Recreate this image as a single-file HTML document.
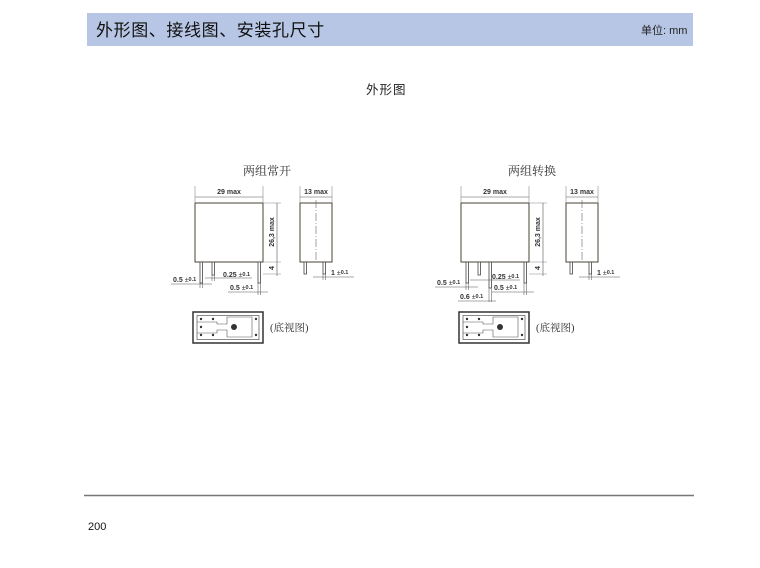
<!DOCTYPE html>
<html><head><meta charset="utf-8">
<style>
html,body{margin:0;padding:0;background:#fff;}
body{width:760px;height:568px;overflow:hidden;position:relative;font-family:"Liberation Sans","Noto Sans CJK SC",sans-serif;}
</style></head><body>
<svg width="760" height="568" viewBox="0 0 760 568" xmlns="http://www.w3.org/2000/svg" style="position:absolute;left:0;top:0">
<rect x="87" y="13" width="606" height="33" fill="#b7c6e4"/>
<text x="96" y="36" font-size="17" fill="#111" font-family="Noto Sans CJK SC, sans-serif" letter-spacing="0.6">外形图、接线图、安装孔尺寸</text>
<text x="641" y="34" font-size="11" fill="#222" font-family="Liberation Sans, Noto Sans CJK SC, sans-serif">单位: mm</text>
<text x="366" y="94" font-size="12.5" fill="#222" font-family="Noto Sans CJK SC, sans-serif" letter-spacing="1">外形图</text>
<text x="243" y="175" font-size="12" fill="#333" font-family="Noto Serif CJK SC, serif">两组常开</text>
<text x="508" y="175" font-size="12" fill="#333" font-family="Noto Serif CJK SC, serif">两组转换</text>

<defs>
<g id="common" font-family="Liberation Sans, sans-serif" font-weight="bold" font-size="7">
 <rect x="195" y="203" width="68" height="59" fill="#fff" stroke="#4a4036" stroke-width="1"/>
 <line x1="195" y1="186" x2="195" y2="203" stroke="#888" stroke-width="0.6"/>
 <line x1="263" y1="186" x2="263" y2="203" stroke="#888" stroke-width="0.6"/>
 <line x1="195" y1="197" x2="263" y2="197" stroke="#555" stroke-width="0.6"/>
 <text x="229" y="194" text-anchor="middle" fill="#333">29 max</text>
 <line x1="263" y1="203" x2="281" y2="203" stroke="#888" stroke-width="0.6"/>
 <line x1="263" y1="262" x2="281" y2="262" stroke="#888" stroke-width="0.6"/>
 <line x1="277" y1="203" x2="277" y2="276" stroke="#555" stroke-width="0.6"/>
 <line x1="263" y1="274" x2="281" y2="274" stroke="#888" stroke-width="0.6"/>
 <text transform="translate(274,232) rotate(-90)" text-anchor="middle" fill="#333">26,3 max</text>
 <text transform="translate(274,268) rotate(-90)" text-anchor="middle" fill="#333">4</text>
 <rect x="300" y="203" width="32" height="59" fill="#fff" stroke="#4a4036" stroke-width="1"/>
 <line x1="316" y1="200" x2="316" y2="262" stroke="#666" stroke-width="0.6" stroke-dasharray="8,2,1,2"/>
 <line x1="300" y1="186" x2="300" y2="203" stroke="#888" stroke-width="0.6"/>
 <line x1="332" y1="186" x2="332" y2="203" stroke="#888" stroke-width="0.6"/>
 <line x1="300" y1="197" x2="332" y2="197" stroke="#555" stroke-width="0.6"/>
 <text x="316" y="194" text-anchor="middle" fill="#333">13 max</text>
 <rect x="304" y="262" width="2.5" height="12" fill="#fff" stroke="#444" stroke-width="0.8"/>
 <rect x="323" y="262" width="2.5" height="12" fill="#fff" stroke="#444" stroke-width="0.8"/>
 <line x1="323" y1="274" x2="323" y2="280" stroke="#666" stroke-width="0.6"/>
 <line x1="325.5" y1="274" x2="325.5" y2="280" stroke="#666" stroke-width="0.6"/>
 <line x1="313" y1="277" x2="354" y2="277" stroke="#555" stroke-width="0.6"/>
 <text x="331" y="275" fill="#333">1 <tspan font-weight="normal">±</tspan><tspan font-size="5.5" dy="-1">0.1</tspan></text>
 <rect x="193" y="312" width="70" height="31" fill="#fff" stroke="#333" stroke-width="1.5"/>
 <rect x="197" y="315.5" width="62" height="24" fill="#fff" stroke="#555" stroke-width="0.7"/>
 <path d="M197,322 H217 V324 H227 V317 H252 V337 H227 V330 H217 V333 H197" fill="none" stroke="#555" stroke-width="0.6"/>
 <circle cx="234" cy="327" r="3" fill="#333"/>
 <circle cx="201" cy="319" r="1.2" fill="#333"/><circle cx="213" cy="319" r="1.2" fill="#333"/>
 <circle cx="201" cy="327" r="1.2" fill="#333"/>
 <circle cx="201" cy="335" r="1.2" fill="#333"/><circle cx="213" cy="335" r="1.2" fill="#333"/>
 <circle cx="256" cy="319" r="1.2" fill="#333"/><circle cx="256" cy="335" r="1.2" fill="#333"/>
 <text x="270" y="331" font-weight="normal" font-size="10.5" fill="#333" font-family="Liberation Serif, Noto Serif CJK SC, serif">(底视图)</text>
</g>
</defs>

<use href="#common"/>
<g font-family="Liberation Sans, sans-serif" font-weight="bold" font-size="7">
 <rect x="200" y="262" width="2.5" height="21" fill="#fff" stroke="#444" stroke-width="0.8"/>
 <rect x="212" y="262" width="2.5" height="13" fill="#fff" stroke="#444" stroke-width="0.8"/>
 <rect x="258" y="262" width="2.5" height="21" fill="#fff" stroke="#444" stroke-width="0.8"/>
 <line x1="200" y1="283" x2="200" y2="288" stroke="#666" stroke-width="0.6"/>
 <line x1="202.5" y1="283" x2="202.5" y2="288" stroke="#666" stroke-width="0.6"/>
 <line x1="212" y1="275" x2="212" y2="281" stroke="#666" stroke-width="0.6"/>
 <line x1="214.5" y1="275" x2="214.5" y2="281" stroke="#666" stroke-width="0.6"/>
 <line x1="258" y1="283" x2="258" y2="295" stroke="#666" stroke-width="0.6"/>
 <line x1="260.5" y1="283" x2="260.5" y2="295" stroke="#666" stroke-width="0.6"/>
 <line x1="171" y1="284" x2="212" y2="284" stroke="#555" stroke-width="0.6"/>
 <text x="173" y="282" fill="#333">0.5 <tspan font-weight="normal">±</tspan><tspan font-size="5.5" dy="-1">0.1</tspan></text>
 <line x1="205" y1="278" x2="252" y2="278" stroke="#555" stroke-width="0.6"/>
 <text x="223" y="277" fill="#333">0.25 <tspan font-weight="normal">±</tspan><tspan font-size="5.5" dy="-1">0.1</tspan></text>
 <line x1="228" y1="292" x2="268" y2="292" stroke="#555" stroke-width="0.6"/>
 <text x="230" y="290" fill="#333">0.5 <tspan font-weight="normal">±</tspan><tspan font-size="5.5" dy="-1">0.1</tspan></text>
</g>

<use href="#common" transform="translate(266,0)"/>
<g font-family="Liberation Sans, sans-serif" font-weight="bold" font-size="7">
 <rect x="466" y="262" width="2.5" height="21" fill="#fff" stroke="#444" stroke-width="0.8"/>
 <rect x="478" y="262" width="2.5" height="13" fill="#fff" stroke="#444" stroke-width="0.8"/>
 <rect x="489" y="262" width="2.5" height="26" fill="#fff" stroke="#444" stroke-width="0.8"/>
 <rect x="524" y="262" width="2.5" height="21" fill="#fff" stroke="#444" stroke-width="0.8"/>
 <line x1="466" y1="283" x2="466" y2="290" stroke="#666" stroke-width="0.6"/>
 <line x1="468.5" y1="283" x2="468.5" y2="290" stroke="#666" stroke-width="0.6"/>
 <line x1="489" y1="288" x2="489" y2="302" stroke="#666" stroke-width="0.6"/>
 <line x1="491.5" y1="288" x2="491.5" y2="302" stroke="#666" stroke-width="0.6"/>
 <line x1="524" y1="283" x2="524" y2="295" stroke="#666" stroke-width="0.6"/>
 <line x1="526.5" y1="283" x2="526.5" y2="295" stroke="#666" stroke-width="0.6"/>
 <line x1="435" y1="287" x2="478" y2="287" stroke="#555" stroke-width="0.6"/>
 <text x="437" y="285" fill="#333">0.5 <tspan font-weight="normal">±</tspan><tspan font-size="5.5" dy="-1">0.1</tspan></text>
 <line x1="470" y1="280" x2="520" y2="280" stroke="#555" stroke-width="0.6"/>
 <text x="492" y="279" fill="#333">0.25 <tspan font-weight="normal">±</tspan><tspan font-size="5.5" dy="-1">0.1</tspan></text>
 <line x1="492" y1="292" x2="534" y2="292" stroke="#555" stroke-width="0.6"/>
 <text x="494" y="290" fill="#333">0.5 <tspan font-weight="normal">±</tspan><tspan font-size="5.5" dy="-1">0.1</tspan></text>
 <line x1="458" y1="301" x2="496" y2="301" stroke="#555" stroke-width="0.6"/>
 <text x="460" y="299" fill="#333">0.6 <tspan font-weight="normal">±</tspan><tspan font-size="5.5" dy="-1">0.1</tspan></text>
</g>

<line x1="84" y1="495.5" x2="694" y2="495.5" stroke="#777" stroke-width="1.5"/>
<text x="88" y="530" font-size="11" fill="#111" font-family="Liberation Sans, sans-serif">200</text>
</svg>
</body></html>
